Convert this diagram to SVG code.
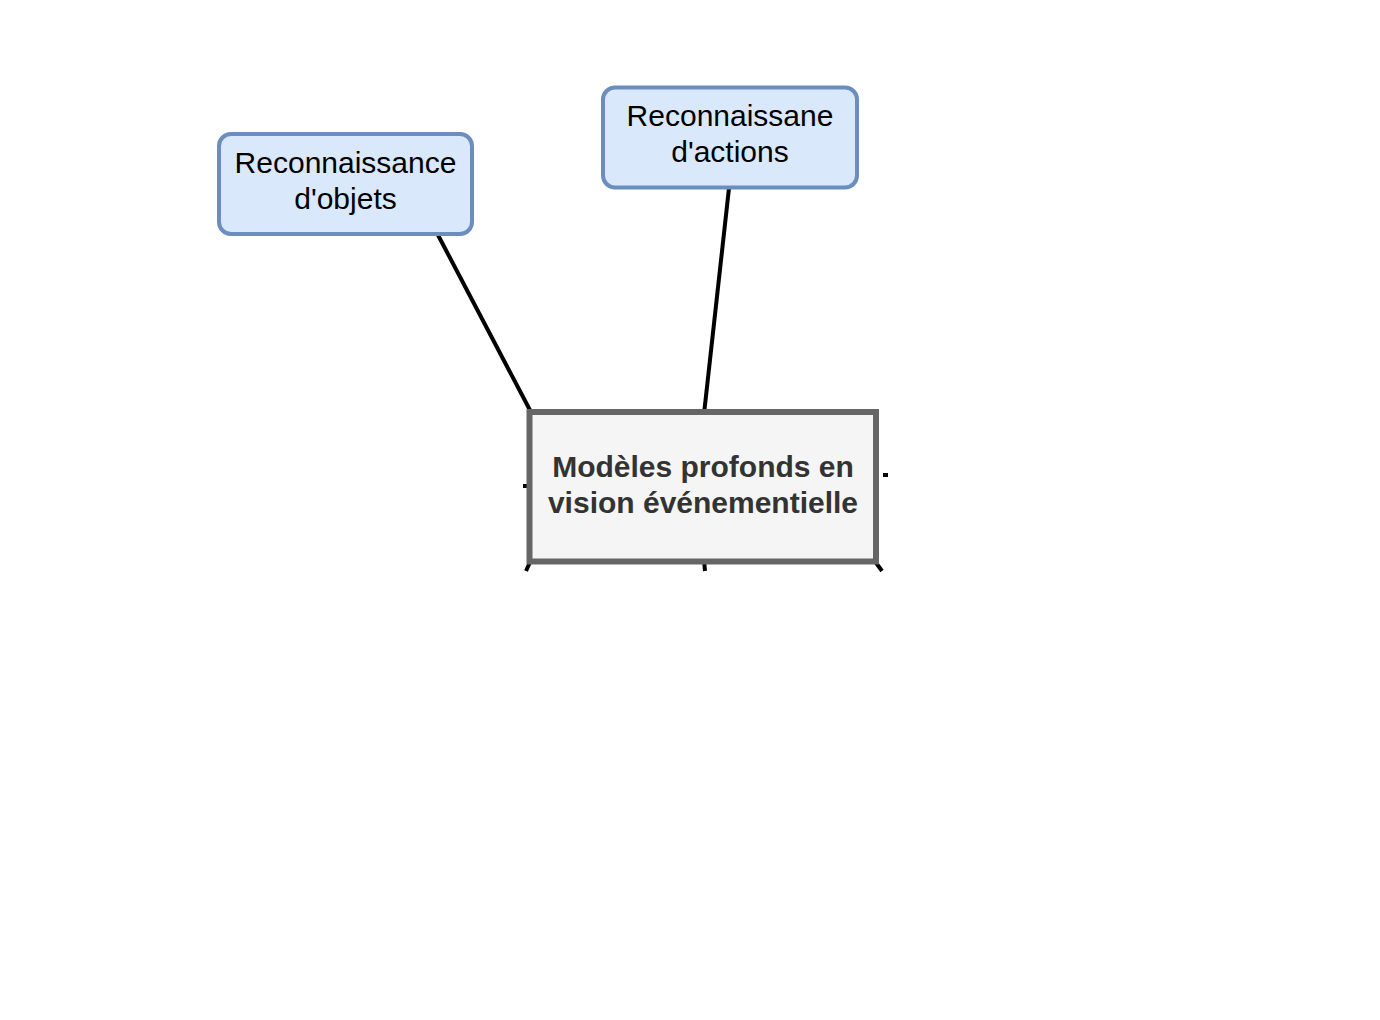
<svg xmlns="http://www.w3.org/2000/svg" width="1380" height="1020" viewBox="0 0 1380 1020">
<style>
.conn{stroke:#000;stroke-width:4;fill:none}
.leaf rect{fill:#dae8fc;stroke:#6c8ebf;stroke-width:4}
.leaf text{font-family:"Liberation Sans",Arial,sans-serif;font-size:30px;fill:#000;text-anchor:middle}
.core rect{fill:#f5f5f5;stroke:#666;stroke-width:6}
.core text{font-family:"Liberation Sans",Arial,sans-serif;font-size:30px;font-weight:bold;fill:#333;text-anchor:middle}
</style>
<rect width="1380" height="1020" fill="#fff"/>
<g id="connectors">
<line class="conn" x1="438" y1="235" x2="532" y2="414"/>
<line class="conn" x1="729" y1="188" x2="704" y2="414"/>
<line class="conn" x1="523" y1="486" x2="532" y2="486"/>
<line class="conn" x1="883" y1="475" x2="888" y2="475"/>
<line class="conn" x1="531" y1="560" x2="526" y2="571"/>
<line class="conn" x1="704" y1="560" x2="705" y2="571"/>
<line class="conn" x1="874" y1="560" x2="882" y2="571"/>
</g>
<g id="node-objets" class="leaf">
<rect x="219" y="134" width="253" height="100" rx="12"/>
<text x="345.5" y="173">Reconnaissance</text>
<text x="345.5" y="209">d'objets</text>
</g>
<g id="node-actions" class="leaf">
<rect x="603" y="87.5" width="254" height="100" rx="12"/>
<text x="730" y="126">Reconnaissane</text>
<text x="730" y="162">d'actions</text>
</g>
<g id="node-center" class="core">
<rect x="529.5" y="412" width="346.5" height="149.5"/>
<text x="703" y="477">Modèles profonds en</text>
<text x="703" y="513">vision événementielle</text>
</g>
</svg>
